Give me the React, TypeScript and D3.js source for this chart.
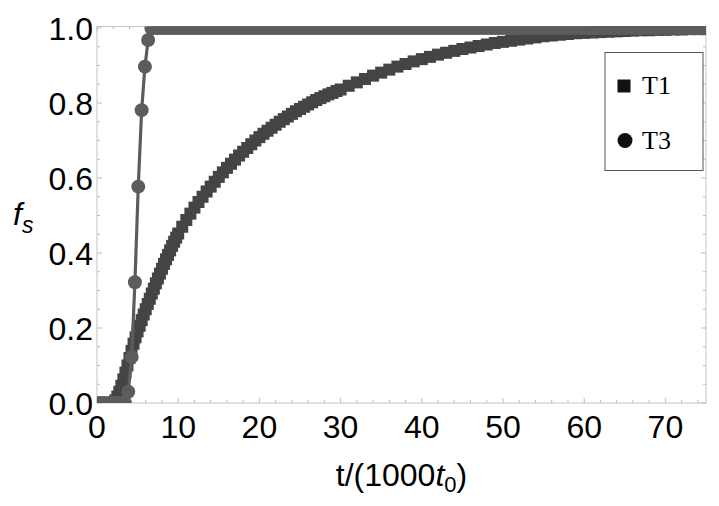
import React from "react";
import * as d3 from "d3";

// ---- data ----
const xTickValues = [0, 10, 20, 30, 40, 50, 60, 70];
const yTickValues = [0, 0.2, 0.4, 0.6, 0.8, 1.0];
const yTickLabels = ["0.0", "0.2", "0.4", "0.6", "0.8", "1.0"];
const seriesNames = ["T1", "T3"];

// T1 (squares)
const t1Times = [
  0, 0.25, 0.5, 0.75, 1, 1.25, 1.5, 1.75, 2,
  2.25, 2.5, 2.75, 3, 3.25, 3.5, 3.75, 4,
  4.25, 4.5, 4.75, 5, 5.25, 5.5, 5.75, 6,
  6.25, 6.5, 6.75, 7, 7.25, 7.5, 7.75, 8,
  8.25, 8.5, 8.75, 9, 9.25, 9.5, 9.75, 10,
  10.5, 11, 11.5, 12, 12.5, 13, 13.5, 14, 14.5, 15,
  15.5, 16, 16.5, 17, 17.5, 18, 18.5, 19, 19.5, 20,
  20.5, 21, 21.5, 22, 22.5, 23, 23.5, 24, 24.5, 25,
  25.5, 26, 26.5, 27, 27.5, 28, 28.5, 29, 29.5, 30,
  31, 32, 33, 34, 35, 36, 37, 38, 39, 40,
  41, 42, 43, 44, 45, 46, 47, 48, 49, 50,
  51, 52, 53, 54, 55, 56, 57, 58, 59, 60,
  61, 62, 63, 64, 65, 66, 67, 68, 69, 70,
  71, 72, 73, 74, 75,
];
const t1Values = [
  0, 0, 0, 0, 0, 0, 0, 0, 0,
  0.007, 0.017, 0.03, 0.046, 0.063, 0.081, 0.1, 0.12,
  0.139, 0.158, 0.175, 0.191, 0.206, 0.221, 0.236, 0.25,
  0.264, 0.278, 0.292, 0.305, 0.319, 0.332, 0.345, 0.358,
  0.371, 0.383, 0.395, 0.407, 0.419, 0.43, 0.441, 0.452,
  0.47, 0.488, 0.505, 0.521, 0.536, 0.55, 0.564, 0.577, 0.59, 0.603,
  0.615, 0.627, 0.638, 0.649, 0.66, 0.67, 0.68, 0.69, 0.7, 0.709,
  0.718, 0.726, 0.734, 0.742, 0.75, 0.757, 0.764, 0.771, 0.778, 0.784,
  0.79, 0.796, 0.802, 0.808, 0.813, 0.818, 0.823, 0.827, 0.832, 0.836,
  0.846, 0.855, 0.864, 0.873, 0.881, 0.889, 0.897, 0.904, 0.911, 0.917,
  0.923, 0.929, 0.934, 0.939, 0.944, 0.948, 0.952, 0.956, 0.96, 0.963,
  0.966, 0.969, 0.972, 0.975, 0.978, 0.98, 0.982, 0.984, 0.986, 0.987,
  0.988, 0.989, 0.99, 0.991, 0.992, 0.993, 0.994, 0.994, 0.995, 0.995,
  0.996, 0.996, 0.997, 0.997, 0.997,
];

// T3 (circles + line)
const t3Times = [
  0, 0.5, 1, 1.5, 2, 2.5, 3, 3.45,
  3.85, 4.27, 4.67, 5.08, 5.5, 5.9, 6.3, 6.7,
  7, 7.5, 8, 8.5, 9, 9.5, 10, 10.5, 11, 11.5,
  12, 12.5, 13, 13.5, 14, 14.5, 15, 15.5, 16, 16.5,
  17, 17.5, 18, 18.5, 19, 19.5, 20, 20.5, 21, 21.5,
  22, 22.5, 23, 23.5, 24, 24.5, 25, 25.5, 26, 26.5,
  27, 27.5, 28, 28.5, 29, 29.5, 30, 30.5, 31, 31.5,
  32, 32.5, 33, 33.5, 34, 34.5, 35, 35.5, 36, 36.5,
  37, 37.5, 38, 38.5, 39, 39.5, 40, 40.5, 41, 41.5,
  42, 42.5, 43, 43.5, 44, 44.5, 45, 45.5, 46, 46.5,
  47, 47.5, 48, 48.5, 49, 49.5, 50, 50.5, 51, 51.5,
  52, 52.5, 53, 53.5, 54, 54.5, 55, 55.5, 56, 56.5,
  57, 57.5, 58, 58.5, 59, 59.5, 60, 60.5, 61, 61.5,
  62, 62.5, 63, 63.5, 64, 64.5, 65, 65.5, 66, 66.5,
  67, 67.5, 68, 68.5, 69, 69.5, 70, 70.5, 71, 71.5,
  72, 72.5, 73, 73.5, 74, 74.5, 75,
];
const t3Values = [
  0, 0, 0, 0, 0, 0, 0, 0,
  0.03, 0.123, 0.322, 0.577, 0.781, 0.897, 0.968, 1,
  1, 1, 1, 1, 1, 1, 1, 1, 1, 1,
  1, 1, 1, 1, 1, 1, 1, 1, 1, 1,
  1, 1, 1, 1, 1, 1, 1, 1, 1, 1,
  1, 1, 1, 1, 1, 1, 1, 1, 1, 1,
  1, 1, 1, 1, 1, 1, 1, 1, 1, 1,
  1, 1, 1, 1, 1, 1, 1, 1, 1, 1,
  1, 1, 1, 1, 1, 1, 1, 1, 1, 1,
  1, 1, 1, 1, 1, 1, 1, 1, 1, 1,
  1, 1, 1, 1, 1, 1, 1, 1, 1, 1,
  1, 1, 1, 1, 1, 1, 1, 1, 1, 1,
  1, 1, 1, 1, 1, 1, 1, 1, 1, 1,
  1, 1, 1, 1, 1, 1, 1, 1, 1, 1,
  1, 1, 1, 1, 1, 1, 1, 1, 1, 1,
  1, 1, 1, 1, 1, 1, 1,
];

export default function App() {
  const W = 719;
  const H = 506;
  const left = 97;
  const right = 706;
  const top = 26.5;
  const bottom = 403;

  const x = d3.scaleLinear().domain([0, 75]).range([left, right]);
  const y = d3.scaleLinear().domain([0, 1.004]).range([bottom, top]);

  const t1 = t1Times.map((t, i) => ({ t, v: t1Values[i] })).filter((d) => d.v !== undefined);
  const t3 = t3Times.map((t, i) => ({ t, v: t3Values[i] })).filter((d) => d.v !== undefined);

  const line = d3
    .line<{ t: number; v: number }>()
    .x((d) => x(d.t))
    .y((d) => y(d.v));

  const xMinor = d3.range(0, 75.01, 2).filter((v) => v % 10 !== 0);
  const yMinor = d3.range(0, 1.001, 0.05).filter((v) => Math.abs(v * 5 - Math.round(v * 5)) > 1e-6);

  const frameColor = "#c4c4c4";
  const tickColor = "#bdbdbd";
  const majorLen = 5;
  const minorLen = 3;
  const sq = 12;
  const r = 7;

  const tickFont = "'Liberation Sans', Arial, sans-serif";

  return (
    <svg width={W} height={H} style={{ position: "absolute", left: 0, top: 0, background: "#fff" }}>
      <defs>
        <clipPath id="plotClip">
          <rect x={left} y={top} width={right - left} height={bottom - top} />
        </clipPath>
      </defs>

      {/* frame */}
      <rect x={left} y={top} width={right - left} height={bottom - top} fill="none" stroke={frameColor} strokeWidth={1} />

      {/* ticks */}
      <g stroke={tickColor} strokeWidth={1}>
        {xTickValues.map((v) => (
          <g key={"xt" + v}>
            <line x1={x(v)} x2={x(v)} y1={bottom} y2={bottom - majorLen} />
            <line x1={x(v)} x2={x(v)} y1={top} y2={top + majorLen} />
          </g>
        ))}
        {xMinor.map((v) => (
          <g key={"xm" + v}>
            <line x1={x(v)} x2={x(v)} y1={bottom} y2={bottom - minorLen} />
            <line x1={x(v)} x2={x(v)} y1={top} y2={top + minorLen} />
          </g>
        ))}
        {yTickValues.map((v) => (
          <g key={"yt" + v}>
            <line x1={left} x2={left + majorLen} y1={y(v)} y2={y(v)} />
            <line x1={right} x2={right - majorLen} y1={y(v)} y2={y(v)} />
          </g>
        ))}
        {yMinor.map((v) => (
          <g key={"ym" + v}>
            <line x1={left} x2={left + minorLen} y1={y(v)} y2={y(v)} />
            <line x1={right} x2={right - minorLen} y1={y(v)} y2={y(v)} />
          </g>
        ))}
      </g>

      {/* data */}
      <g clipPath="url(#plotClip)">
        <g fill="#444444">
          {t1.map((d, i) => (
            <rect key={"s" + i} x={x(d.t) - sq / 2} y={y(d.v) - sq / 2} width={sq} height={sq} />
          ))}
        </g>
        <path d={line(t3) || ""} fill="none" stroke="#5c5c5c" strokeWidth={3.2} />
        <g fill="#5c5c5c">
          {t3.map((d, i) => (
            <circle key={"c" + i} cx={x(d.t)} cy={y(d.v)} r={r} />
          ))}
        </g>
      </g>

      {/* tick labels */}
      <g fontFamily={tickFont} fontSize={32} fill="#000">
        {xTickValues.map((v) => (
          <text key={"xl" + v} x={x(v)} y={438} textAnchor="middle">
            {String(v)}
          </text>
        ))}
        {yTickValues.map((v, i) => (
          <text key={"yl" + v} x={93} y={y(v) + 11.5} textAnchor="end">
            {yTickLabels[i]}
          </text>
        ))}
      </g>

      {/* axis titles */}
      <text x={(left + right) / 2} y={486} textAnchor="middle" fontFamily={tickFont} fontSize={32} fill="#000">
        <tspan>t/(1000</tspan>
        <tspan fontStyle="italic">t</tspan>
        <tspan fontSize={22} dy={6}>0</tspan>
        <tspan dy={-6}>)</tspan>
      </text>
      <text x={13} y={225} fontFamily={tickFont} fontSize={32} fill="#000">
        <tspan fontStyle="italic">f</tspan>
        <tspan fontStyle="italic" fontSize={23} dy={8}>s</tspan>
      </text>

      {/* legend */}
      <g>
        <rect x={605} y={52.5} width={98} height={118} fill="#fff" stroke="#555" strokeWidth={1} />
        <rect x={617.5} y={79.5} width={13} height={13} fill="#111" />
        <circle cx={625} cy={140.5} r={7.5} fill="#111" />
        <g fontFamily="'Liberation Serif', 'Times New Roman', serif" fontSize={26} fill="#000">
          <text x={642} y={94}>{seriesNames[0]}</text>
          <text x={642} y={149}>{seriesNames[1]}</text>
        </g>
      </g>
    </svg>
  );
}
